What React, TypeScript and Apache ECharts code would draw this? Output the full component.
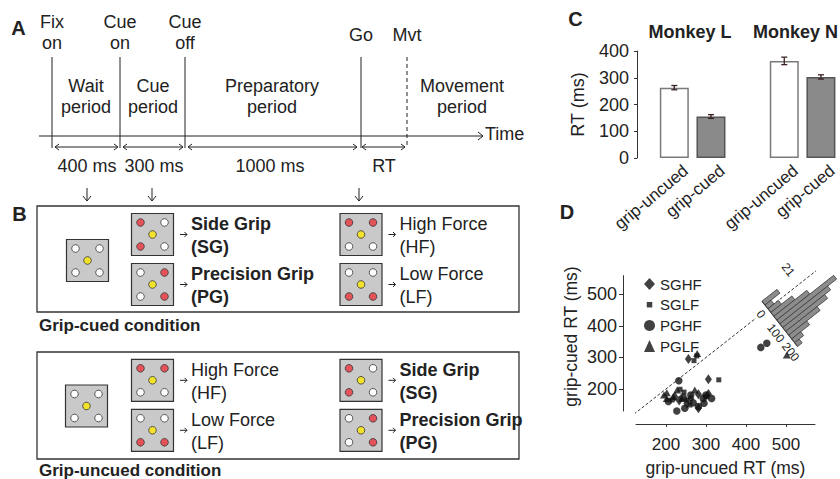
import React, { useEffect, useRef } from 'react';
import * as echarts from 'echarts';

const FONT = '"Liberation Sans", Arial, Helvetica, sans-serif';
const INK = '#222222';

// ---------- Panel A : trial timeline ----------
const eventLabels = ['Fix\non', 'Cue\non', 'Cue\noff', 'Go', 'Mvt'];
const periodLabels = ['Wait\nperiod', 'Cue\nperiod', 'Preparatory\nperiod', 'Movement\nperiod'];
const durationLabels = ['400 ms', '300 ms', '1000 ms', 'RT'];
const timeLabel = 'Time';

// ---------- Panel B : cue displays ----------
// LED pattern order: top-left, top-right, bottom-left, bottom-right (1 = red)
const neutralLeds = [0, 0, 0, 0];
const gripCues = [
  { name: 'Side Grip', abbr: '(SG)', leds: [1, 0, 1, 0] },
  { name: 'Precision Grip', abbr: '(PG)', leds: [0, 1, 0, 1] },
];
const forceCues = [
  { name: 'High Force', abbr: '(HF)', leds: [1, 1, 0, 0] },
  { name: 'Low Force', abbr: '(LF)', leds: [0, 0, 1, 1] },
];
const conditionNames = ['Grip-cued condition', 'Grip-uncued condition'];

// ---------- Panel C : mean RT ----------
const monkeys = ['Monkey L', 'Monkey N'];
const cueConditions = ['grip-uncued', 'grip-cued'];
const uncuedMeanRT = [263, 363];
const uncuedSemRT = [8, 14];
const cuedMeanRT = [155, 303];
const cuedSemRT = [7, 8];
const rtAxisMax = 400;
const rtAxisStep = 100;

// ---------- Panel D : session scatter ----------
const scatterNames = ['SGHF', 'SGLF', 'PGHF', 'PGLF'];
const sghfPoints = [[256, 295], [306, 231], [281, 183], [233, 163], [281, 139], [252, 154], [306, 184], [222, 175], [262, 170]];
const sglfPoints = [[270, 290], [277, 305], [332, 229], [235, 199], [252, 165], [260, 149], [245, 190], [300, 175], [215, 165]];
const pghfPoints = [[232, 226], [437, 332], [452, 345], [243, 174], [262, 181], [206, 160], [293, 170], [314, 170], [295, 155], [268, 156], [227, 130], [247, 139], [281, 144], [300, 181]];
const pglfPoints = [[502, 308], [278, 313], [202, 188], [272, 197], [195, 181], [218, 176], [202, 125], [258, 123], [228, 197], [260, 120], [202, 170], [240, 170]];
const dTicks = [200, 300, 400, 500];
const dXRange = [125, 572.5];
const dYRange = [130, 560];
const diagonalLow = [120, 425];
const diagonalHigh = [455, 592];
// inset histogram of RT differences (uncued - cued)
const diffBinStart = [-40, -20, 0, 20, 40, 60, 80, 100, 120, 140, 160, 180];
const diffBinCounts = [10, 4, 7, 14, 22, 38, 32, 28, 21, 12, 6, 3];
const diffBinWidth = 20;
const diffRange = [-40, 200];
const diffTicks = [0, 100, 200];
const countTick = 21;
const histZeroRT = 455;

// ---------- layout (pixels) ----------
const A = {
  eventX: [52, 120, 185, 361, 407], lineTop: 57, lineBottom: 148,
  timeX0: 39, timeX1: 483, timeY: 136,
  periodX: [86, 153, 272, 462], periodY: 96.5,
  spans: [[55, 118], [123, 183], [188, 357], [362, 405]], spanY: 147,
  durX: [87, 154, 270, 384], durY: 165.5,
  downX: [87, 152, 359],
};
const SQ = 42;
const B = {
  colX: [131.5, 340],
  boxes: [
    { x: 37, y: 206, w: 482, h: 106, nx: 66.5, ny: 239.5, rowY: [213.5, 263.5], labelY: 325 },
    { x: 37, y: 352, w: 482, h: 107, nx: 65.5, ny: 385, rowY: [359.3, 409.3], labelY: 470 },
  ],
};
const MS_PX = 0.24;
const COUNT_PX = 1.9;

function buildGraphics() {
  const g: any[] = [];
  const text = (x: number, y: number, s: string, o: any = {}) => {
    const align = o.align || 'center';
    const va = o.va || 'middle';
    const size = o.size || 18;
    g.push({
      type: 'text', x, y, rotation: o.rot || 0, silent: true,
      style: {
        text: s, fill: INK, fontFamily: FONT, fontSize: size, fontWeight: o.weight || 'normal',
        align, verticalAlign: va, textAlign: align, textVerticalAlign: va,
        lineHeight: o.lh || Math.round(size * 1.2),
      },
    });
  };
  const line = (x1: number, y1: number, x2: number, y2: number, o: any = {}) =>
    g.push({
      type: 'line', silent: true, shape: { x1, y1, x2, y2 },
      style: { stroke: o.color || INK, lineWidth: o.w || 1, ...(o.dash ? { lineDash: o.dash } : {}) },
    });
  const chevron = (pts: number[][]) =>
    g.push({ type: 'polyline', silent: true, shape: { points: pts }, style: { stroke: INK, lineWidth: 1, fill: 'none' } });

  // Panel A
  text(18.5, 27.5, 'A', { size: 20, weight: 'bold' });
  eventLabels.forEach((lab, i) => {
    const x = A.eventX[i];
    text(x, lab.includes('\n') ? 32.5 : 35, lab, { lh: 21 });
    line(x, A.lineTop, x, A.lineBottom, i === eventLabels.length - 1 ? { dash: [4, 3] } : {});
  });
  line(A.timeX0, A.timeY, A.timeX1, A.timeY);
  chevron([[A.timeX1 - 5, A.timeY - 4], [A.timeX1, A.timeY], [A.timeX1 - 5, A.timeY + 4]]);
  text(A.timeX1 + 2, A.timeY - 2, timeLabel, { align: 'left' });
  periodLabels.forEach((lab, i) => text(A.periodX[i], A.periodY, lab, { lh: 21 }));
  A.spans.forEach(([a, b], i) => {
    const y = A.spanY;
    line(a, y, b, y);
    chevron([[a + 4, y - 3], [a, y], [a + 4, y + 3]]);
    chevron([[b - 4, y - 3], [b, y], [b - 4, y + 3]]);
    text(A.durX[i], A.durY, durationLabels[i]);
  });
  A.downX.forEach((x) => {
    line(x, 188, x, 201);
    chevron([[x - 4, 196], [x, 201], [x + 4, 196]]);
  });

  // Panel B
  const ledOff = [[9, 9], [33, 9], [9, 33], [33, 33]];
  const square = (sx: number, sy: number, leds: number[]) => {
    g.push({ type: 'rect', silent: true, shape: { x: sx, y: sy, width: SQ, height: SQ }, style: { fill: '#c9c9c9', stroke: '#333', lineWidth: 1.2 } });
    leds.forEach((on, k) =>
      g.push({ type: 'circle', silent: true, shape: { cx: sx + ledOff[k][0], cy: sy + ledOff[k][1], r: 3.8 }, style: { fill: on ? '#e5535a' : '#ffffff', stroke: '#333', lineWidth: 0.8 } })
    );
    g.push({ type: 'circle', silent: true, shape: { cx: sx + 21, cy: sy + 21, r: 3.8 }, style: { fill: '#f3e22c', stroke: '#333', lineWidth: 0.8 } });
  };
  text(19.5, 213.5, 'B', { size: 20, weight: 'bold' });
  B.boxes.forEach((box, bi) => {
    g.push({ type: 'rect', silent: true, shape: { x: box.x, y: box.y, width: box.w, height: box.h }, style: { fill: 'none', stroke: '#333', lineWidth: 1.3 } });
    square(box.nx, box.ny, neutralLeds);
    const cols = bi === 0 ? [gripCues, forceCues] : [forceCues, gripCues];
    cols.forEach((cues, ci) => {
      const sx = B.colX[ci];
      cues.forEach((cue, ri) => {
        const sy = box.rowY[ri];
        square(sx, sy, cue.leds);
        const cy = sy + SQ / 2;
        line(sx + SQ + 6.5, cy, sx + SQ + 13.5, cy);
        chevron([[sx + SQ + 11, cy - 2.5], [sx + SQ + 13.5, cy], [sx + SQ + 11, cy + 2.5]]);
        text(sx + SQ + 17.5, cy + 1, cue.name + '\n' + cue.abbr, { align: 'left', lh: 23, weight: cues === gripCues ? 'bold' : 'normal' });
      });
    });
    text(39, box.labelY, conditionNames[bi], { align: 'left', size: 17, weight: 'bold' });
  });

  // Panels C and D headings
  text(575.5, 19, 'C', { size: 20, weight: 'bold' });
  text(690, 32, monkeys[0], { weight: 'bold' });
  text(753, 32, monkeys[1], { align: 'left', weight: 'bold' });
  text(567, 211.5, 'D', { size: 20, weight: 'bold' });
  text(571, 336.5, 'grip-cued RT (ms)', { size: 17.5, rot: Math.PI / 2 });
  return g;
}

function buildOption() {
  // Panel C categories: one gap category between the two monkeys
  const cCats: string[] = [];
  monkeys.forEach((m, mi) => {
    if (mi > 0) cCats.push('gap|');
    cueConditions.forEach((c) => cCats.push(m + '|' + c));
  });
  const uncuedData: any[] = cCats.map(() => '-');
  const cuedData: any[] = cCats.map(() => '-');
  const errData: number[][] = [];
  monkeys.forEach((m, mi) => {
    uncuedData[mi * 3] = uncuedMeanRT[mi];
    cuedData[mi * 3 + 1] = cuedMeanRT[mi];
    errData.push([mi * 3, uncuedMeanRT[mi], uncuedSemRT[mi]]);
    errData.push([mi * 3 + 1, cuedMeanRT[mi], cuedSemRT[mi]]);
  });

  const histData = diffBinStart.map((b, i) => [b, diffBinCounts[i]]);

  const axisLine = { show: true, onZero: false, lineStyle: { color: '#333', width: 1 } };
  const smallText = (s: string, x: number, y: number, rot: number) => ({
    type: 'text', x, y, rotation: rot,
    style: { text: s, fontSize: 12, fontFamily: FONT, fill: INK, align: 'center', verticalAlign: 'middle', textAlign: 'center', textVerticalAlign: 'middle' },
  });

  return {
    animation: false,
    backgroundColor: '#ffffff',
    textStyle: { fontFamily: FONT, color: INK },
    graphic: { elements: buildGraphics() },
    grid: [
      { left: 656, top: 51, width: 185, height: 107, containLabel: false },
      { left: 636, top: 275.6, width: 179, height: 135.4, containLabel: false },
    ],
    legend: {
      orient: 'vertical', left: 639, top: 271.5, itemWidth: 11, itemHeight: 12, itemGap: 5.7,
      selectedMode: false,
      textStyle: { fontSize: 15, color: INK, fontFamily: FONT },
      data: [
        { name: scatterNames[0], icon: 'diamond' },
        { name: scatterNames[1], icon: 'path://M0,0M12,12M3,3L9,3L9,9L3,9Z' },
        { name: scatterNames[2], icon: 'circle' },
        { name: scatterNames[3], icon: 'triangle' },
      ],
    },
    xAxis: [
      {
        gridIndex: 0, type: 'category', data: cCats,
        axisLine: { show: false }, axisTick: { show: false }, splitLine: { show: false },
        axisLabel: {
          interval: 0, rotate: 40, fontSize: 17, color: INK, fontFamily: FONT, margin: 20,
          padding: [0, -15, 0, 0],
          formatter: (v: string) => v.split('|')[1] || '',
        },
      },
      {
        gridIndex: 1, type: 'value', min: dXRange[0], max: dXRange[1], offset: 13,
        axisLine, splitLine: { show: false },
        axisTick: { show: true, length: 3, customValues: dTicks, lineStyle: { color: '#333' } },
        axisLabel: { customValues: dTicks, fontSize: 17, color: INK, margin: 12 },
        name: 'grip-uncued RT (ms)', nameLocation: 'middle', nameGap: 35,
        nameTextStyle: { fontSize: 17.5, color: INK, fontFamily: FONT },
      },
    ],
    yAxis: [
      {
        gridIndex: 0, type: 'value', min: 0, max: rtAxisMax, interval: rtAxisStep, offset: 19,
        axisLine, splitLine: { show: false },
        axisTick: { show: true, length: 3, lineStyle: { color: '#333' } },
        axisLabel: { fontSize: 18, color: INK, margin: 8 },
        name: 'RT (ms)', nameLocation: 'middle', nameGap: 50,
        nameTextStyle: { fontSize: 18, color: INK, fontFamily: FONT },
      },
      {
        gridIndex: 1, type: 'value', min: dYRange[0], max: dYRange[1], offset: 13,
        axisLine, splitLine: { show: false },
        axisTick: { show: true, length: 4, customValues: dTicks, lineStyle: { color: '#333' } },
        axisLabel: { customValues: dTicks, fontSize: 18, color: INK, margin: 6 },
      },
    ],
    series: [
      {
        type: 'bar', name: cueConditions[0], xAxisIndex: 0, yAxisIndex: 0, data: uncuedData,
        barWidth: 29, barGap: '-100%',
        itemStyle: { color: '#ffffff', borderColor: '#7a7a7a', borderWidth: 1.5 },
      },
      {
        type: 'bar', name: cueConditions[1], xAxisIndex: 0, yAxisIndex: 0, data: cuedData,
        barWidth: 29, barGap: '-100%',
        itemStyle: { color: '#8a8a8a', borderColor: '#555555', borderWidth: 1.5 },
      },
      {
        type: 'custom', xAxisIndex: 0, yAxisIndex: 0, data: errData, z: 5,
        encode: { x: 0, y: 1 },
        renderItem: (params: any, api: any) => {
          const x = api.value(0), m = api.value(1), e = api.value(2);
          const top = api.coord([x, m + e]);
          const bot = api.coord([x, m - e]);
          const hw = 3;
          const st = { stroke: '#3a2222', lineWidth: 1.3 };
          return {
            type: 'group',
            children: [
              { type: 'line', shape: { x1: top[0], y1: top[1], x2: bot[0], y2: bot[1] }, style: st },
              { type: 'line', shape: { x1: top[0] - hw, y1: top[1], x2: top[0] + hw, y2: top[1] }, style: st },
              { type: 'line', shape: { x1: bot[0] - hw, y1: bot[1], x2: bot[0] + hw, y2: bot[1] }, style: st },
            ],
          };
        },
      },
      {
        type: 'line', xAxisIndex: 1, yAxisIndex: 1, data: diagonalLow.map((v) => [v, v]),
        symbol: 'none', clip: false, silent: true, z: 1,
        lineStyle: { color: '#333', width: 1, type: [3, 2] },
      },
      {
        type: 'line', xAxisIndex: 1, yAxisIndex: 1, data: diagonalHigh.map((v) => [v, v]),
        symbol: 'none', clip: false, silent: true, z: 1,
        lineStyle: { color: '#333', width: 1, type: [3, 2] },
      },
      {
        type: 'custom', xAxisIndex: 1, yAxisIndex: 1, data: histData, z: 4, clip: false,
        encode: { x: 0, y: 1 },
        renderItem: (params: any, api: any) => {
          const o = api.coord([histZeroRT, histZeroRT]);
          const p = api.coord([histZeroRT + 100, histZeroRT + 100]);
          const len = Math.hypot(p[0] - o[0], p[1] - o[1]);
          const u = [(p[0] - o[0]) / len, (p[1] - o[1]) / len];
          const n = [-u[1], u[0]];
          const pt = (t: number, s: number) => [o[0] + n[0] * t + u[0] * s, o[1] + n[1] * t + u[1] * s];
          const rot = -Math.atan2(n[1], n[0]);
          const d0 = api.value(0);
          const c = api.value(1);
          const a = d0 * MS_PX, b = (d0 + diffBinWidth) * MS_PX, h = c * COUNT_PX;
          const children: any[] = [];
          if (params.dataIndex === 0) {
            const s0 = pt(diffRange[0] * MS_PX, 0), s1 = pt(diffRange[1] * MS_PX, 0);
            children.push({ type: 'line', shape: { x1: s0[0], y1: s0[1], x2: s1[0], y2: s1[1] }, style: { stroke: '#222', lineWidth: 1.2 } });
            diffTicks.forEach((tk) => {
              const q = pt(tk * MS_PX, -9);
              children.push(smallText(String(tk), q[0], q[1], rot));
            });
            const q = pt(-18, countTick * COUNT_PX);
            children.push(smallText(String(countTick), q[0], q[1], rot));
          }
          children.push({
            type: 'polygon', shape: { points: [pt(a, 0), pt(b, 0), pt(b, h), pt(a, h)] },
            style: { fill: '#8c8c8c', stroke: '#3a3a3a', lineWidth: 0.8 },
          });
          return { type: 'group', children };
        },
      },
      { type: 'scatter', name: scatterNames[0], xAxisIndex: 1, yAxisIndex: 1, data: sghfPoints, symbol: 'diamond', symbolSize: [7, 10], itemStyle: { color: '#111' }, z: 3 },
      { type: 'scatter', name: scatterNames[1], xAxisIndex: 1, yAxisIndex: 1, data: sglfPoints, symbol: 'rect', symbolSize: 5, itemStyle: { color: '#111' }, z: 3 },
      { type: 'scatter', name: scatterNames[2], xAxisIndex: 1, yAxisIndex: 1, data: pghfPoints, symbol: 'circle', symbolSize: 7.5, itemStyle: { color: '#111' }, z: 3 },
      { type: 'scatter', name: scatterNames[3], xAxisIndex: 1, yAxisIndex: 1, data: pglfPoints, symbol: 'triangle', symbolSize: [8, 7], itemStyle: { color: '#111' }, z: 3 },
    ],
  };
}

export default function App() {
  const ref = useRef<HTMLDivElement>(null);
  useEffect(() => {
    const chart = echarts.init(ref.current as HTMLDivElement, null, { renderer: 'svg' });
    chart.setOption(buildOption() as any);
    return () => chart.dispose();
  }, []);
  return (
    <div
      ref={ref}
      style={{ position: 'absolute', left: 0, top: 0, width: 840, height: 479, background: '#ffffff' }}
    />
  );
}
